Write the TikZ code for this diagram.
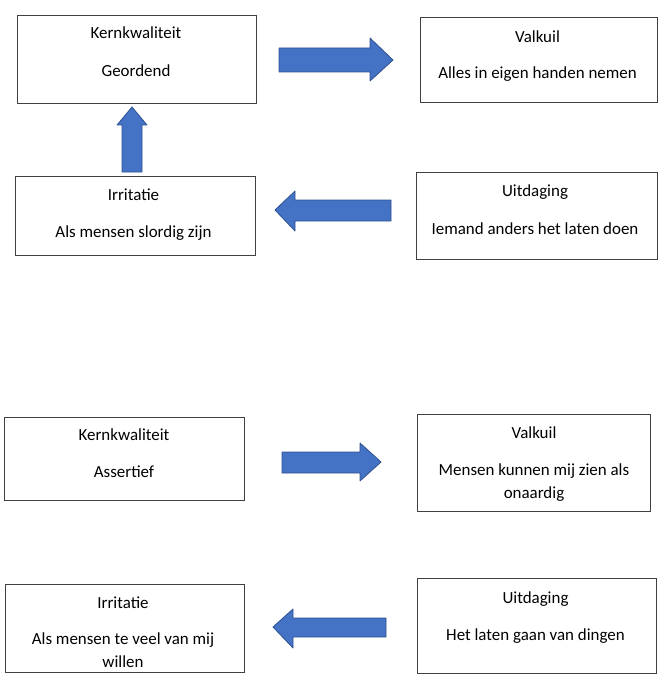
\documentclass[tikz,border=0pt]{standalone}
\usepackage{fontspec}
\setmainfont{Carlito}
\definecolor{arrowblue}{HTML}{4472C4}
\definecolor{arrowedge}{HTML}{2F528F}
\begin{document}
\begin{tikzpicture}[x=1bp,y=-1bp,
  box/.style={draw=black!75, line width=0.9bp, fill=white, inner sep=0pt},
  lbl/.style={font=\fontsize{17}{20}\selectfont, inner sep=0pt, anchor=base},
  barrow/.style={fill=arrowblue, draw=arrowedge, line width=0.8bp, line join=round}]
\useasboundingbox (0,0) rectangle (660,677);

% boxes
\node[box, minimum width=239bp, minimum height=88bp] (k1) at (136.5,59) {};
\node[box, minimum width=240bp, minimum height=79bp] (i1) at (135,216) {};
\node[box, minimum width=237bp, minimum height=85bp] (v1) at (538.5,59.5) {};
\node[box, minimum width=241bp, minimum height=87bp] (u1) at (536.5,215.5) {};
\node[box, minimum width=240bp, minimum height=83bp] (k2) at (124.5,459) {};
\node[box, minimum width=233bp, minimum height=97bp] (v2) at (534,462.5) {};
\node[box, minimum width=239bp, minimum height=88bp] (i2) at (124.5,628) {};
\node[box, minimum width=239bp, minimum height=95bp] (u2) at (536.5,625.5) {};

% texts
\node[lbl] (k1a) at (136,39) {Kernkwaliteit};
\node[lbl] (k1b) at (136,77) {Geordend};
\node[lbl] (v1a) at (537.5,43) {Valkuil};
\node[lbl] (v1b) at (537.5,79) {Alles in eigen handen nemen};
\node[lbl] (i1a) at (133.5,200) {Irritatie};
\node[lbl] (i1b) at (133.5,237) {Als mensen slordig zijn};
\node[lbl] (u1a) at (535,196) {Uitdaging};
\node[lbl] (u1b) at (535,234) {Iemand anders het laten doen};
\node[lbl] (k2a) at (124,440) {Kernkwaliteit};
\node[lbl] (k2b) at (124,477) {Assertief};
\node[lbl] (v2a) at (534,438) {Valkuil};
\node[lbl] (v2b) at (534,475) {Mensen kunnen mij zien als};
\node[lbl] (v2c) at (534,498) {onaardig};
\node[lbl] (i2a) at (123,608) {Irritatie};
\node[lbl] (i2b) at (123,644) {Als mensen te veel van mij};
\node[lbl] (i2c) at (123,667) {willen};
\node[lbl] (u2a) at (535.5,603) {Uitdaging};
\node[lbl] (u2b) at (535.5,640) {Het laten gaan van dingen};

% block arrows
\draw[barrow] (279,48) -- (370,48) -- (370,38) -- (393,60) -- (370,81) -- (370,72) -- (279,72) -- cycle;
\draw[barrow] (122,172) -- (122,125) -- (117,125) -- (132,107) -- (147,125) -- (142,125) -- (142,172) -- cycle;
\draw[barrow] (391,200) -- (295,200) -- (295,191) -- (275,210) -- (295,231) -- (295,221) -- (391,221) -- cycle;
\draw[barrow] (282,452) -- (360,452) -- (360,443) -- (381,462) -- (360,481) -- (360,473) -- (282,473) -- cycle;
\draw[barrow] (386,618) -- (293,618) -- (293,609) -- (273,627) -- (293,648) -- (293,637) -- (386,637) -- cycle;
\end{tikzpicture}
\end{document}
